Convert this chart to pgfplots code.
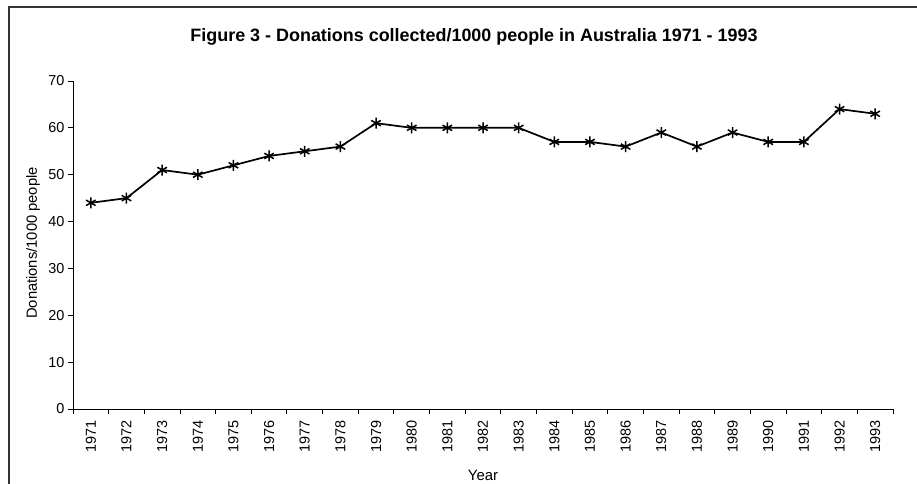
\documentclass[border=0pt]{standalone}
\usepackage{pgfplots}
\pgfplotsset{compat=1.18}
\usepackage{fontspec}
\setmainfont{Liberation Sans}
\newcommand\tickfont{\fontsize{14.5}{17}\selectfont}
\begin{document}
\begin{tikzpicture}[x=1bp,y=1bp]
\useasboundingbox (0,0) rectangle (917,484);
\draw[line width=1.4bp, black!80] (9,0) -- (9,477) -- (917,477);
\begin{axis}[
  at={(73bp,75bp)}, anchor=south west,
  scale only axis, width=820bp, height=328bp,
  xmin=-0.5, xmax=22.5, ymin=0, ymax=70,
  axis x line*=bottom, axis y line*=left,
  axis line style={line width=0.9bp, -},
  tick label style={font=\tickfont},
  xtick={0,...,22},
  xticklabels={1971,1972,1973,1974,1975,1976,1977,1978,1979,1980,1981,1982,1983,1984,1985,1986,1987,1988,1989,1990,1991,1992,1993},
  x tick label style={rotate=90, anchor=east, xshift=-3bp},
  major x tick style={draw=none},
  minor xtick={-0.5,0.5,...,22.5},
  minor x tick style={line width=0.9bp, black},
  minor tick length=5bp,
  ytick={0,10,...,70},
  /pgf/number format/assume math mode=true,
  major y tick style={line width=0.9bp, black},
  major tick length=5bp,
  tick align=outside,
  clip=false,
]
\addplot[black, line width=1.7bp, mark=asterisk, mark size=5.5bp, mark options={line width=1.5bp}]
coordinates {
(0,44) (1,45) (2,51) (3,50) (4,52) (5,54) (6,55) (7,56) (8,61) (9,60) (10,60) (11,60)
(12,60) (13,57) (14,57) (15,56) (16,59) (17,56) (18,59) (19,57) (20,57) (21,64) (22,63)
};
\end{axis}
\node[font=\bfseries\fontsize{18}{21}\selectfont] at (474,447) {Figure 3 - Donations collected/1000 people in Australia 1971 - 1993};
\node[rotate=90, font=\fontsize{14.8}{17}\selectfont] at (33,241) {Donations/1000 people};
\node[font=\fontsize{15}{17}\selectfont] at (483,9) {Year};
\end{tikzpicture}
\end{document}
